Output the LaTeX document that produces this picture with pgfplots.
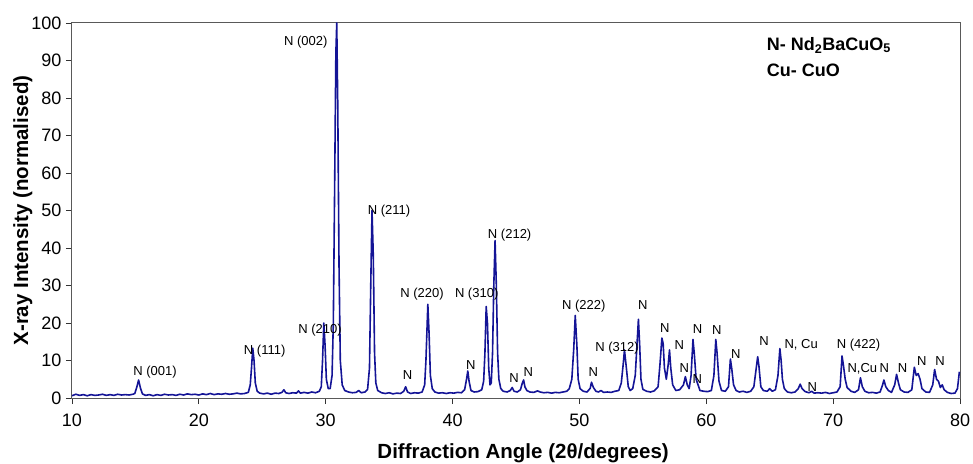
\documentclass[border=0pt]{standalone}
\usepackage{fontspec}
\setmainfont{Liberation Sans}
\usepackage{pgfplots}
\pgfplotsset{compat=1.18}
\definecolor{xrd}{RGB}{20,20,150}
\begin{document}
\begin{tikzpicture}
\path[use as bounding box] (-72pt,-65pt) rectangle (901pt,398pt);
\begin{axis}[
  scale only axis, width=888pt, height=375pt,
  xmin=10, xmax=80, ymin=0, ymax=100,
  xtick={10,20,...,80}, ytick={0,10,...,100},
  tick align=outside, xtick pos=lower, ytick pos=left,
  major tick length=6pt,
  tick style={black!80, line width=0.8pt},
  axis line style={black!65, line width=1pt},
  ticklabel style={font=\fontsize{18}{20}\selectfont},
  xticklabel style={yshift=-6pt},
  yticklabel style={xshift=-1pt},
  /pgf/number format/assume math mode=true,
  label style={font=\bfseries\fontsize{20.5}{24}\selectfont},
  xlabel={Diffraction Angle (2θ/degrees)},
  ylabel={X-ray Intensity (normalised)},
  xlabel style={at={(axis description cs:0.508,-0.16)}, anchor=base},
  ylabel style={at={(axis description cs:-0.0495,0.5)}, anchor=base},
  clip mode=individual,
  every node/.style={inner sep=0pt},
]
\addplot[xrd, line width=1.6pt, line join=round] coordinates {
(10,0.6) (10.3,1.0) (10.6,0.7) (10.9,0.9) (11.2,0.6) (11.5,0.9) (11.8,0.7) (12.1,0.8)
(12.4,1.0) (12.7,0.7) (13.0,0.9) (13.3,0.7) (13.6,1.0) (13.9,0.8) (14.2,0.9) (14.5,0.8)
(14.8,1.0) (14.95,1.2) (15.1,2.8) (15.25,4.8) (15.4,2.6) (15.55,1.1) (15.8,0.7) (16.1,0.9)
(16.4,0.6) (16.7,0.9) (17.0,0.7) (17.3,1.0) (17.6,0.8) (17.9,0.9) (18.2,0.7) (18.5,1.0)
(18.8,0.8) (19.1,1.1) (19.4,0.9) (19.7,1.0) (20.0,0.8) (20.3,1.1) (20.6,0.9) (20.9,1.2)
(21.2,0.9) (21.5,1.1) (21.8,1.0) (22.1,1.2) (22.4,1.0) (22.7,1.1) (23.0,1.3) (23.3,1.1)
(23.6,1.2) (23.9,1.5) (24.05,3.5) (24.15,8) (24.25,13.3) (24.35,10) (24.45,4) (24.6,1.8)
(24.8,1.3) (25.1,1.1) (25.4,1.3) (25.7,1.0) (26.0,1.3) (26.3,1.2) (26.55,1.5) (26.7,2.2)
(26.85,1.4) (27.1,1.2) (27.4,1.4) (27.7,1.3) (27.85,1.9) (28.0,1.3) (28.3,1.5) (28.6,1.3)
(28.9,1.6) (29.2,1.4) (29.5,1.8) (29.65,3) (29.75,10) (29.85,20) (29.95,14) (30.05,5)
(30.2,2.5) (30.35,2.5) (30.5,6) (30.6,20) (30.7,55) (30.8,92) (30.87,100) (30.95,78)
(31.05,35) (31.15,10) (31.3,3.5) (31.5,2.0) (31.8,1.6) (32.1,1.4) (32.4,1.5) (32.6,2.0)
(32.8,1.4) (33.1,1.6) (33.3,2.3) (33.45,8) (33.55,30) (33.65,50) (33.75,38) (33.85,12)
(33.95,4) (34.1,2.0) (34.4,1.4) (34.7,1.2) (35.0,1.4) (35.3,1.1) (35.6,1.3) (35.9,1.2)
(36.15,1.8) (36.3,3.0) (36.45,1.6) (36.7,1.2) (37.0,1.4) (37.3,1.3) (37.6,1.6) (37.8,3.5)
(37.9,10) (38.05,25) (38.15,17) (38.25,6) (38.4,2.5) (38.6,1.6) (38.9,1.3) (39.2,1.4)
(39.5,1.2) (39.8,1.4) (40.1,1.3) (40.4,1.5) (40.7,1.4) (40.95,2.2) (41.1,5) (41.2,7.2)
(41.3,4.5) (41.45,2.0) (41.7,1.6) (42.0,1.7) (42.3,2.2) (42.45,4.5) (42.55,12) (42.65,24.4)
(42.75,20) (42.85,8) (42.95,3.5) (43.05,4) (43.15,12) (43.25,30) (43.35,42) (43.45,30)
(43.55,12) (43.65,5) (43.8,2.5) (44.0,1.8) (44.3,1.6) (44.55,2.0) (44.7,2.8) (44.85,1.8)
(45.1,1.6) (45.35,2.2) (45.5,4.0) (45.6,4.8) (45.7,3.0) (45.85,2.0) (46.1,1.6) (46.4,1.5)
(46.7,1.9) (46.9,1.6) (47.2,1.4) (47.5,1.5) (47.8,1.3) (48.1,1.5) (48.4,1.4) (48.7,1.6)
(49.0,1.8) (49.2,2.5) (49.4,5) (49.55,13) (49.67,22) (49.8,14) (49.9,5) (50.05,2.5)
(50.3,1.8) (50.6,1.6) (50.85,2.6) (50.95,4.2) (51.1,2.8) (51.3,1.8) (51.5,1.6) (51.7,2.0)
(51.9,1.5) (52.2,1.6) (52.5,1.5) (52.8,1.8) (53.1,2.0) (53.3,4) (53.45,9) (53.55,12.8)
(53.7,8) (53.85,3) (54.0,2.0) (54.2,2.5) (54.4,6) (54.55,15) (54.65,21) (54.75,14)
(54.85,5) (55.0,2.3) (55.3,1.8) (55.6,1.6) (55.9,1.9) (56.2,3) (56.35,9) (56.5,16)
(56.6,14.5) (56.7,8) (56.85,5) (57.0,9) (57.1,12.8) (57.2,8) (57.35,3.5) (57.6,2.0)
(57.9,2.2) (58.2,3.5) (58.35,5.7) (58.5,3.5) (58.65,2.5) (58.8,6) (58.95,15.6) (59.05,12)
(59.2,5) (59.35,3.5) (59.5,2.0) (59.8,1.8) (60.1,1.7) (60.4,2.0) (60.6,6) (60.75,15.6)
(60.85,12) (61.0,4.5) (61.2,2.0) (61.5,1.8) (61.75,3) (61.9,10.4) (62.0,8) (62.15,3.5)
(62.35,2.0) (62.6,1.6) (62.9,1.8) (63.2,1.5) (63.5,1.8) (63.75,3) (63.9,7) (64.05,11)
(64.15,8.5) (64.3,3) (64.5,2.0) (64.8,1.8) (65.0,2.5) (65.2,1.8) (65.45,2.2) (65.65,6)
(65.8,13.2) (65.9,10) (66.0,5) (66.15,2.5) (66.4,1.6) (66.7,1.4) (67.0,1.6) (67.25,2.5)
(67.4,3.7) (67.55,2.5) (67.8,1.7) (68.1,1.4) (68.3,1.8) (68.5,1.3) (68.8,1.4) (69.1,1.3)
(69.4,1.5) (69.7,1.2) (70.0,1.4) (70.3,1.6) (70.55,3) (70.7,11.2) (70.8,9) (70.95,5)
(71.1,2.8) (71.4,1.8) (71.7,1.5) (72.0,2.2) (72.15,5.4) (72.3,3) (72.5,1.8) (72.8,1.4)
(73.1,1.5) (73.4,1.3) (73.7,1.6) (73.9,3.5) (74.0,4.8) (74.15,3) (74.35,2.0) (74.6,1.5)
(74.85,3.5) (75.0,6.3) (75.15,4) (75.3,2.2) (75.6,1.6) (75.9,1.5) (76.2,2.2) (76.4,8.2)
(76.55,6) (76.7,6.5) (76.85,5) (77.0,2.5) (77.3,1.6) (77.6,1.5) (77.85,3.5) (78.0,7.6)
(78.15,5) (78.3,4.5) (78.45,2.8) (78.6,3.5) (78.75,2.2) (79.0,1.5) (79.3,1.2) (79.6,1.3)
(79.8,2.5) (79.95,7)
};
\begin{scope}[font=\fontsize{13}{15}\selectfont]
\node at (axis cs:16.54,6.9) {N (001)};
\node at (axis cs:25.19,12.5) {N (111)};
\node at (axis cs:29.55,18.1) {N (210)};
\node at (axis cs:28.43,95) {N (002)};
\node at (axis cs:34.99,49.9) {N (211)};
\node at (axis cs:37.59,27.6) {N (220)};
\node at (axis cs:41.9,27.6) {N (310)};
\node at (axis cs:44.5,43.5) {N (212)};
\node at (axis cs:50.34,24.6) {N (222)};
\node at (axis cs:52.96,13.2) {N (312)};
\node at (axis cs:36.46,6.1) {N};
\node at (axis cs:41.43,8.8) {N};
\node at (axis cs:44.84,5.2) {N};
\node at (axis cs:45.97,7.0) {N};
\node at (axis cs:51.1,7.0) {N};
\node at (axis cs:54.99,24.8) {N};
\node at (axis cs:56.74,18.6) {N};
\node at (axis cs:57.87,14.1) {N};
\node at (axis cs:58.27,7.9) {N};
\node at (axis cs:59.32,18.3) {N};
\node at (axis cs:59.29,5.1) {N};
\node at (axis cs:60.82,18.1) {N};
\node at (axis cs:62.32,11.7) {N};
\node at (axis cs:64.55,15.3) {N};
\node at (axis cs:67.48,14.1) {N, Cu};
\node at (axis cs:68.36,2.8) {N};
\node at (axis cs:72.0,14.1) {N (422)};
\node at (axis cs:72.3,7.9) {N,Cu};
\node at (axis cs:74.03,7.9) {N};
\node at (axis cs:75.48,7.9) {N};
\node at (axis cs:76.98,9.9) {N};
\node at (axis cs:78.42,9.9) {N};
\end{scope}
\node[anchor=west, font=\bfseries\fontsize{18}{20}\selectfont] at (axis cs:64.5,94.1) {N- Nd\textsubscript{2}BaCuO\textsubscript{5}};
\node[anchor=west, font=\bfseries\fontsize{18}{20}\selectfont] at (axis cs:64.5,87.5) {Cu- CuO};
\end{axis}
\end{tikzpicture}
\end{document}
